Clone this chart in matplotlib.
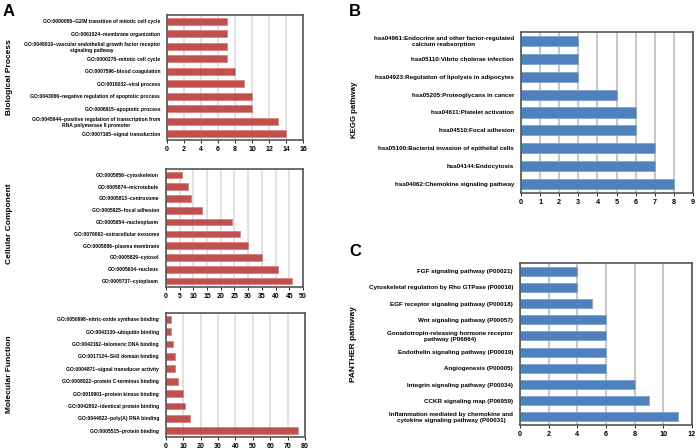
import numpy as np
from matplotlib import pyplot as plt

plt.rcParams['font.family'] = ['Liberation Sans', 'DejaVu Sans']
plt.rcParams['font.weight'] = 'bold'

# Panel A - GO terms (top to bottom)
bp_labels = ["GO:0000086~G2/M transition of mitotic cell cycle",
             "GO:0061024~membrane organization",
             "GO:0048010~vascular endothelial growth factor receptor\nsignaling pathway",
             "GO:0000278~mitotic cell cycle",
             "GO:0007596~blood coagulation",
             "GO:0016032~viral process",
             "GO:0043066~negative regulation of apoptotic process",
             "GO:0006915~apoptotic process",
             "GO:0045944~positive regulation of transcription from\nRNA polymerase II promoter",
             "GO:0007165~signal transduction"]
bp_counts = [7, 7, 7, 7, 8, 9, 10, 10, 13, 14]

cc_labels = ["GO:0005856~cytoskeleton",
             "GO:0005874~microtubule",
             "GO:0005813~centrosome",
             "GO:0005925~focal adhesion",
             "GO:0005654~nucleoplasm",
             "GO:0070062~extracellular exosome",
             "GO:0005886~plasma membrane",
             "GO:0005829~cytosol",
             "GO:0005634~nucleus",
             "GO:0005737~cytoplasm"]
cc_counts = [6, 8, 9, 13, 24, 27, 30, 35, 41, 46]

mf_labels = ["GO:0050998~nitric-oxide synthase binding",
             "GO:0043130~ubiquitin binding",
             "GO:0042162~telomeric DNA binding",
             "GO:0017124~SH3 domain binding",
             "GO:0004871~signal transducer activity",
             "GO:0008022~protein C-terminus binding",
             "GO:0019901~protein kinase binding",
             "GO:0042802~identical protein binding",
             "GO:0044822~poly(A) RNA binding",
             "GO:0005515~protein binding"]
mf_counts = [3, 3, 4, 5, 5, 7, 10, 11, 14, 76]

# Panel B - KEGG
kegg_labels = ["hsa04961:Endocrine and other factor-regulated\ncalcium reabsorption",
               "hsa05110:Vibrio cholerae infection",
               "hsa04923:Regulation of lipolysis in adipocytes",
               "hsa05205:Proteoglycans in cancer",
               "hsa04611:Platelet activation",
               "hsa04510:Focal adhesion",
               "hsa05100:Bacterial invasion of epithelial cells",
               "hsa04144:Endocytosis",
               "hsa04062:Chemokine signaling pathway"]
kegg_counts = [3, 3, 3, 5, 6, 6, 7, 7, 8]

# Panel C - PANTHER
panther_labels = ["FGF signaling pathway (P00021)",
                  "Cytoskeletal regulation by Rho GTPase (P00016)",
                  "EGF receptor signaling pathway (P00018)",
                  "Wnt signaling pathway (P00057)",
                  "Gonadotropin-releasing hormone receptor\npathway (P06664)",
                  "Endothelin signaling pathway (P00019)",
                  "Angiogenesis (P00005)",
                  "Integrin signaling pathway (P00034)",
                  "CCKR signaling map (P06959)",
                  "Inflammation mediated by chemokine and\ncytokine signaling pathway (P00031)"]
panther_counts = [4, 4, 5, 6, 6, 6, 6, 8, 9, 11]


def draw(ax, labels, counts, xmax, step, color, edge, fs, xfs, gridcol, gridlw):
    y = np.arange(len(counts))
    ax.barh(y, counts, height=0.56, color=color, edgecolor=edge, linewidth=0.6, zorder=2)
    ax.set_ylim(len(counts) - 0.5, -0.5)
    ax.set_xlim(0, xmax)
    ax.set_xticks(np.arange(0, xmax + step, step))
    ax.set_yticks(y)
    ax.set_yticklabels(labels, fontsize=fs, fontweight='bold')
    for t in ax.get_yticklabels():
        t.set_multialignment('center')
    ax.tick_params(axis='y', length=0, pad=5)
    ax.tick_params(axis='x', length=2, width=0.6, labelsize=xfs, pad=2)
    for t in ax.get_xticklabels():
        t.set_fontweight('bold')
    ax.grid(axis='x', color=gridcol, linewidth=gridlw, zorder=0)
    ax.set_axisbelow(True)
    for s in ax.spines.values():
        s.set_color('#555555')
        s.set_linewidth(1.2)


fig = plt.figure(figsize=(7, 4.48), dpi=100)

red = '#c0504d'
red_edge = '#d9807e'
blue = '#4f81bd'
blue_edge = '#7fa3d0'

ax1 = fig.add_axes([0.2386, 0.6875, 0.1943, 0.279])
draw(ax1, bp_labels, bp_counts, 16, 2, red, red_edge, 3.6, 5.0, '#dddddd', 1.2)
ax2 = fig.add_axes([0.2371, 0.3594, 0.1957, 0.2634])
draw(ax2, cc_labels, cc_counts, 50, 5, red, red_edge, 3.6, 5.0, '#dddddd', 1.2)
ax3 = fig.add_axes([0.2371, 0.0246, 0.1986, 0.2768])
draw(ax3, mf_labels, mf_counts, 80, 10, red, red_edge, 3.6, 5.0, '#dddddd', 1.2)

ax4 = fig.add_axes([0.7443, 0.5692, 0.2457, 0.3594])
draw(ax4, kegg_labels, kegg_counts, 9, 1, blue, blue_edge, 4.5, 5.2, '#c8c8c8', 1.5)
ax5 = fig.add_axes([0.7429, 0.0513, 0.2457, 0.3616])
draw(ax5, panther_labels, panther_counts, 12, 2, blue, blue_edge, 4.5, 5.2, '#c8c8c8', 1.5)

# side titles
fig.text(10 / 700, 1 - 77 / 448, "Biological Process", rotation=90, ha='center', va='center', fontsize=6, fontweight='bold')
fig.text(10 / 700, 1 - 224 / 448, "Cellular Component", rotation=90, ha='center', va='center', fontsize=6, fontweight='bold')
fig.text(10 / 700, 1 - 374 / 448, "Molecular Function", rotation=90, ha='center', va='center', fontsize=6, fontweight='bold')
fig.text(355 / 700, 1 - 110 / 448, "KEGG pathway", rotation=90, ha='center', va='center', fontsize=5.6, fontweight='bold')
fig.text(354 / 700, 1 - 344 / 448, "PANTHER pathway", rotation=90, ha='center', va='center', fontsize=6, fontweight='bold')

# panel letters
fig.text(3 / 700, 1 - 12 / 448, "A", ha='left', va='center', fontsize=12, fontweight='bold')
fig.text(349 / 700, 1 - 11 / 448, "B", ha='left', va='center', fontsize=12, fontweight='bold')
fig.text(349 / 700, 1 - 252 / 448, "C", ha='left', va='center', fontsize=12, fontweight='bold')

plt.savefig("out.png", dpi=100)
